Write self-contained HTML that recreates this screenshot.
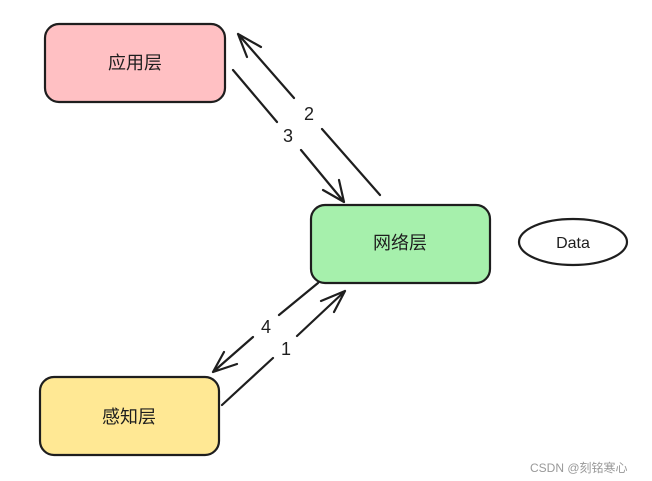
<!DOCTYPE html>
<html><head><meta charset="utf-8"><style>
html,body{margin:0;padding:0;background:#fff;width:652px;height:481px;overflow:hidden}
text{font-family:"Liberation Sans","Noto Sans CJK SC",sans-serif}
</style></head><body>
<svg width="652" height="481" xmlns="http://www.w3.org/2000/svg">
<g stroke="#1e1e1e" stroke-width="2.2" stroke-linecap="round" fill="none">
<rect x="45" y="24" width="180" height="78" rx="14" fill="#ffc0c3"/>
<rect x="311" y="205" width="179" height="78" rx="14" fill="#a6f0ac"/>
<rect x="40" y="377" width="179" height="78" rx="14" fill="#ffe894"/>
<ellipse cx="573" cy="242" rx="54" ry="23" fill="#fff"/>
<!-- arrow 3 -->
<path d="M233 70 L277 122 M301 150 L344 202 M344 202 L339 180 M344 202 L323 190"/>
<!-- arrow 2 -->
<path d="M380 195 L322 129 M294 98 L238 34 M238 34 L247 57 M238 34 L261 47"/>
<!-- arrow 4 -->
<path d="M318 283 L279 315 M253 337 L213 372 M213 372 L224 352 M213 372 L237 364"/>
<!-- arrow 1 -->
<path d="M222 405 L273 358 M297 336 L345 291 M345 291 L321 301 M345 291 L334 312"/>
</g>
<g font-size="18" fill="#1e1e1e" text-anchor="middle">
<text x="135" y="69">应用层</text>
<text x="400" y="249">网络层</text>
<text x="129" y="423">感知层</text>
<text x="288" y="142">3</text>
<text x="309" y="120">2</text>
<text x="266" y="333">4</text>
<text x="286" y="355">1</text>
<text x="573" y="248" font-size="16">Data</text>
</g>
<text x="530" y="472" font-size="12" fill="#999">CSDN @刻铭寒心</text>
</svg>
</body></html>
